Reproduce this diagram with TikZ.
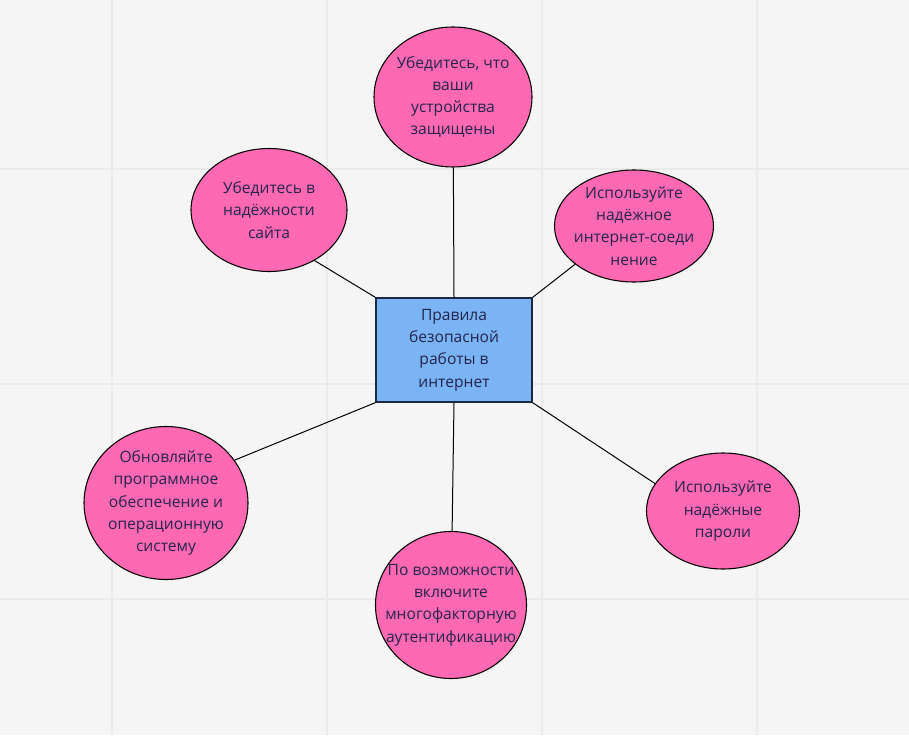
\documentclass[tikz,border=0pt]{standalone}
\usepackage{fontspec}
\setmainfont{Open Sans}
\usetikzlibrary{shapes.geometric}
\definecolor{bg}{HTML}{F5F5F5}
\definecolor{gridc}{HTML}{EBEBEB}
\definecolor{pinkf}{HTML}{FF69B4}
\definecolor{bluef}{HTML}{7AB4F5}
\definecolor{txt}{HTML}{24244A}
\definecolor{boxline}{HTML}{1C2A40}
\tikzset{
  bubble/.style={ellipse, draw=black, line width=0.8pt, fill=pinkf, inner ysep=0pt,
    inner xsep=-30pt, align=center, text=txt, font=\fontsize{11.7}{16.7}\selectfont},
  centerbox/.style={rectangle, draw=boxline, line width=1pt, fill=bluef, inner sep=0pt,
    minimum width=117pt, minimum height=78pt, align=center, text=txt,
    font=\fontsize{11.7}{16.7}\selectfont},
  link/.style={draw=black, line width=0.75pt},
  gridline/.style={draw=gridc, line width=2.2pt}
}
\begin{document}
\begin{tikzpicture}[x=0.75pt,y=-0.75pt]
\fill[bg] (0,0) rectangle (909,735);
\useasboundingbox (0,0) rectangle (909,735);
\foreach \gx in {112,327,542,757} \draw[gridline] (\gx,0) -- (\gx,735);
\foreach \gy in {169,384,599} \draw[gridline] (0,\gy) -- (909,\gy);

\node[centerbox] (c) at (454,350) {Правила\\безопасной\\работы в\\интернет};
\node[bubble, minimum width=118.5pt, minimum height=105pt] (top) at (453,97)
  {Убедитесь, что\\ваши\\устройства\\защищены};
\node[bubble, minimum width=117pt, minimum height=92.25pt] (ul) at (269,210)
  {Убедитесь в\\надёжности\\сайта};
\node[bubble, minimum width=119.25pt, minimum height=84pt] (ur) at (634,226)
  {Используйте\\надёжное\\интернет-соеди\\нение};
\node[bubble, minimum width=123pt, minimum height=114.75pt] (ll) at (166,503)
  {Обновляйте\\программное\\обеспечение и\\операционную\\систему};
\node[bubble, minimum width=113.25pt, minimum height=110.25pt] (bot) at (451,605)
  {По возможности\\включите\\многофакторную\\аутентификацию};
\node[bubble, minimum width=114.75pt, minimum height=87pt] (lr) at (723,511)
  {Используйте\\надёжные\\пароли};

\draw[link] (c.north) -- (top);
\draw[link] (c.north west) -- (ul.-48);
\draw[link] (c.north east) -- (ur.213);
\draw[link] (c.south west) -- (ll.32);
\draw[link] (c.south) -- (bot);
\draw[link] (c.south east) -- (lr.158);
\end{tikzpicture}
\end{document}
